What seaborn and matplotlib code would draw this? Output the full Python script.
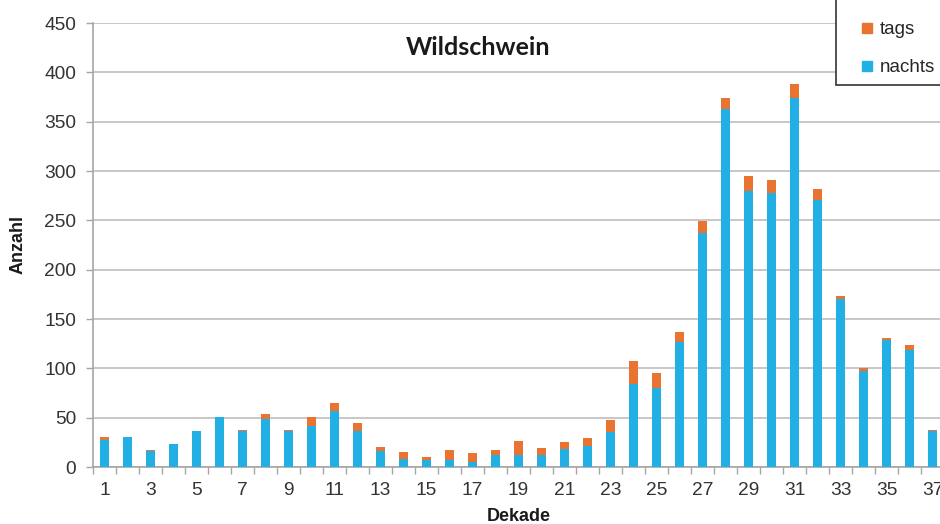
import matplotlib
matplotlib.use("Agg")
import matplotlib.pyplot as plt
import seaborn as sns
import pandas as pd
from matplotlib.patches import Rectangle
from matplotlib.lines import Line2D
from matplotlib.ticker import FixedLocator

dekade = [str(i) for i in range(1, 38)]
nachts = [27, 30, 16, 23, 36, 51, 36, 49, 36, 42, 57, 36, 16, 8, 7, 7, 5, 12, 12, 12,
          18, 21, 35, 84, 80, 127, 237, 363, 280, 278, 374, 271, 170, 97, 129, 119, 36]
tags = [3, 0, 1, 0, 0, 0, 2, 5, 2, 9, 8, 9, 4, 7, 3, 10, 9, 5, 14, 7,
        7, 8, 13, 23, 15, 10, 12, 11, 15, 13, 14, 11, 3, 3, 2, 5, 2]
yticks = [0, 50, 100, 150, 200, 250, 300, 350, 400, 450]

BLUE = "#22B0E4"
ORANGE = "#E97331"

df = pd.DataFrame({"Dekade": dekade, "nachts": nachts, "tags": tags})
df["gesamt"] = df["nachts"] + df["tags"]

sns.set_theme(style="white")
plt.rcParams["font.family"] = ["Liberation Sans", "DejaVu Sans"]

fig = plt.figure(figsize=(9.4, 5.24), dpi=100)
ax = fig.add_axes([93 / 940, 1 - 467 / 524, (944 - 93) / 940, (467 - 23) / 524])

sns.barplot(data=df, x="Dekade", y="gesamt", color=ORANGE, saturation=1,
            width=0.42, ax=ax, zorder=3, edgecolor="none")
sns.barplot(data=df, x="Dekade", y="nachts", color=BLUE, saturation=1,
            width=0.42, ax=ax, zorder=4, edgecolor="none")

ax.set_xlim(-0.5, len(dekade) - 0.5)
ax.set_ylim(0, 450)
ax.set_yticks(yticks)
ax.set_yticklabels([str(v) for v in yticks])
ax.yaxis.grid(True, color="#BDBDBD", linewidth=1.2, zorder=0)
ax.set_axisbelow(True)

ax.set_xticks(range(len(dekade)))
ax.set_xticklabels([d if i % 2 == 0 else "" for i, d in enumerate(dekade)])
ax.xaxis.set_minor_locator(FixedLocator([i - 0.5 for i in range(len(dekade) + 1)]))
ax.tick_params(axis="x", which="major", length=0, labelsize=13.8, colors="#333333", pad=11)
ax.tick_params(axis="x", which="minor", length=5, width=1.0, color="#A6A6A6", bottom=True)
ax.tick_params(axis="y", which="major", length=5, width=1.0, color="#A6A6A6",
               labelsize=13.8, labelcolor="#333333", left=True, pad=7)

for s in ["top", "right"]:
    ax.spines[s].set_visible(False)
for s in ["left", "bottom"]:
    ax.spines[s].set_color("#A6A6A6")
    ax.spines[s].set_linewidth(1.2)

ax.set_xlabel("Dekade", fontsize=13, fontweight="bold", color="#1A1A1A", labelpad=6)
ax.set_ylabel("Anzahl", fontsize=13, fontweight="bold", color="#1A1A1A", labelpad=13)

ax.text(0.452, 0.944, "Wildschwein", transform=ax.transAxes, ha="center", va="center",
        fontsize=18, fontweight="bold", family=["Lato", "DejaVu Sans"], color="#1A1A1A")

rect = Rectangle((836 / 940, 1 - 85 / 524), 0.2, 0.2, transform=fig.transFigure,
                 facecolor="white", edgecolor="#333333", linewidth=1.2, zorder=3)
fig.patches.append(rect)

handles = [Line2D([], [], marker="s", linestyle="", color=ORANGE, markersize=7.5),
           Line2D([], [], marker="s", linestyle="", color=BLUE, markersize=7.5)]
fig.legend(handles, ["tags", "nachts"], loc="upper left",
           bbox_to_anchor=(850 / 940, 1 - 12 / 524), frameon=False, fontsize=13.5,
           handlelength=0.8, handletextpad=0.3, labelspacing=1.1, borderpad=0)

fig.savefig("out.png", dpi=100)
